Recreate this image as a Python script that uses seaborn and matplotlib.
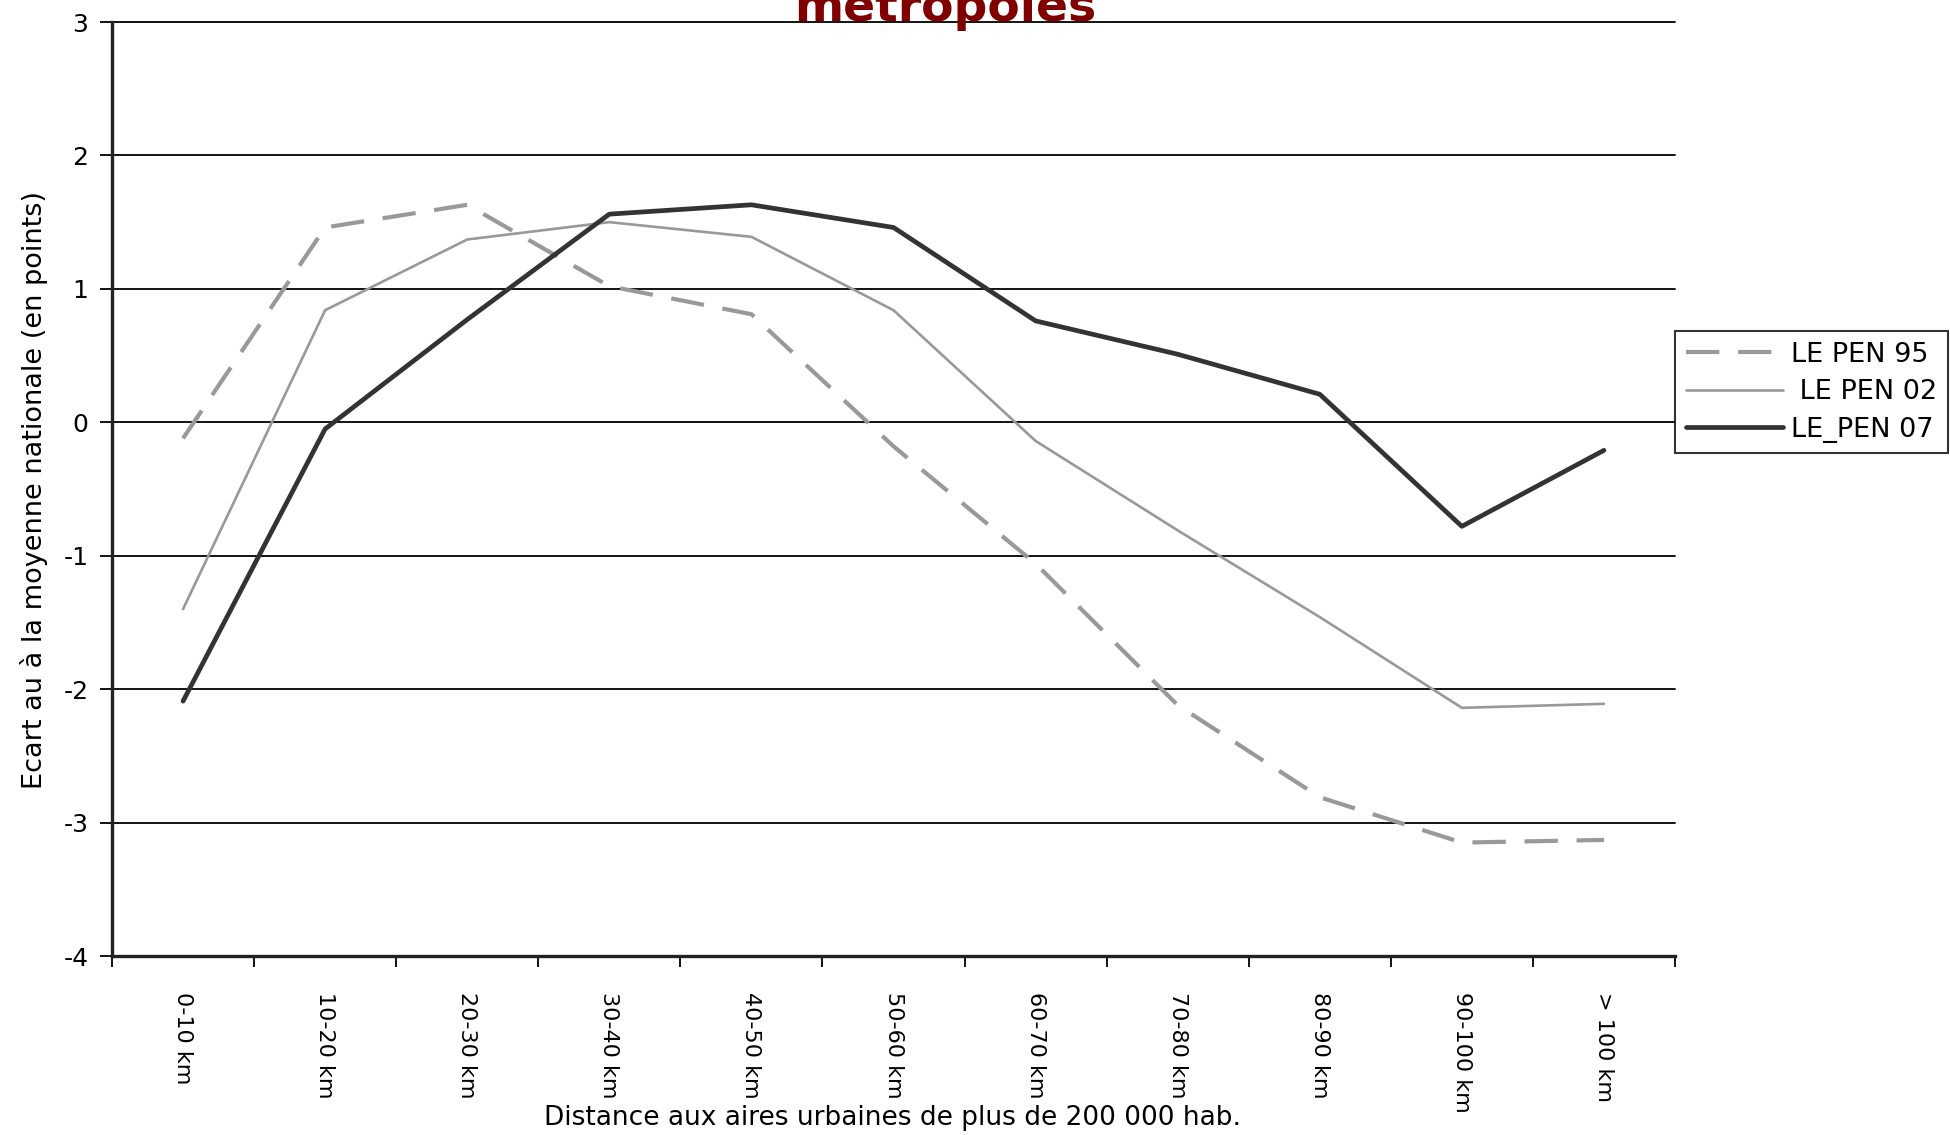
import pandas as pd
import matplotlib.pyplot as plt
import seaborn as sns

categories = ['0-10 km', '10-20 km', '20-30 km', '30-40 km', '40-50 km', '50-60 km',
              '60-70 km', '70-80 km', '80-90 km', '90-100 km', '> 100 km']
le_pen_95 = [-0.12, 1.46, 1.63, 1.02, 0.81, -0.18, -1.06, -2.12, -2.81, -3.15, -3.13]
le_pen_02 = [-1.40, 0.84, 1.37, 1.50, 1.39, 0.84, -0.14, -0.81, -1.46, -2.14, -2.11]
le_pen_07 = [-2.09, -0.05, 0.77, 1.56, 1.63, 1.46, 0.76, 0.51, 0.21, -0.78, -0.21]
series_labels = ['LE PEN 95', ' LE PEN 02', 'LE_PEN 07']
y_ticks = [-4, -3, -2, -1, 0, 1, 2, 3]

sns.set_style('white')
plt.rcParams['font.family'] = ['DejaVu Sans']
plt.rcParams.update({'text.color': 'black', 'axes.labelcolor': 'black',
                     'xtick.color': 'black', 'ytick.color': 'black'})

fig = plt.figure(figsize=(19.5, 11.35), dpi=100)
ax = fig.add_axes([112 / 1950, 1 - 956 / 1135, (1675 - 112) / 1950, (956 - 22) / 1135])

x = list(range(len(categories)))
df95 = pd.DataFrame({'x': x, 'y': le_pen_95})
df02 = pd.DataFrame({'x': x, 'y': le_pen_02})
df07 = pd.DataFrame({'x': x, 'y': le_pen_07})

# grid lines first so the series sit on top
for v in y_ticks:
    ax.axhline(v, color='black', lw=1.3, zorder=1, clip_on=False)

sns.lineplot(data=df95, x='x', y='y', ax=ax, color='#999999', lw=3.0,
             label=series_labels[0], zorder=3)
ax.lines[-1].set_dashes([8, 4.5])
sns.lineplot(data=df02, x='x', y='y', ax=ax, color='#999999', lw=1.9,
             label=series_labels[1], zorder=3)
sns.lineplot(data=df07, x='x', y='y', ax=ax, color='#333333', lw=3.4,
             label=series_labels[2], zorder=4)
for ln in ax.lines:
    ln.set_solid_capstyle('round')
    ln.set_dash_capstyle('butt')

ax.set_xlim(-0.5, len(categories) - 0.5)
ax.set_ylim(-4, 3)
ax.set_yticks(y_ticks)
ax.set_yticklabels([str(v) for v in y_ticks], fontsize=18)

# category labels between boundary ticks
ax.set_xticks([i - 0.5 for i in range(len(categories) + 1)])
ax.set_xticklabels([])
ax.set_xticks(x, minor=True)
ax.set_xticklabels(categories, minor=True, rotation=270, fontsize=16, va='top', ha='center')
ax.tick_params(axis='x', which='minor', length=0, pad=26)
ax.tick_params(axis='x', which='major', length=8, width=1.3, direction='out', bottom=True)
ax.tick_params(axis='y', length=9, width=1.3, direction='out', left=True, pad=8)

for s in ['top', 'right']:
    ax.spines[s].set_visible(False)
ax.spines['left'].set_linewidth(2.4)
ax.spines['left'].set_color('#222222')
ax.spines['bottom'].set_linewidth(2.4)
ax.spines['bottom'].set_color('#222222')

ax.set_xlabel('Distance aux aires urbaines de plus de 200 000 hab.', fontsize=19)
ax.xaxis.set_label_coords((893 - 112) / (1675 - 112), -(1118 - 956) / (956 - 22), transform=ax.transAxes)
ax.xaxis.label.set_va('center')
ax.set_ylabel('Ecart au à la moyenne nationale (en points)', fontsize=19.5)
ax.yaxis.set_label_coords(-(112 - 34) / (1675 - 112), (956 - 490) / (956 - 22))
ax.yaxis.label.set_va('center')

fig.text(945 / 1950, 1 - 21 / 1135, 'metropoles', color='#800000', fontsize=34,
         fontweight='bold', ha='center', va='baseline')

leg = ax.legend(loc='upper left', bbox_to_anchor=(1675 / 1950, 1 - 331 / 1135),
                bbox_transform=fig.transFigure, fontsize=19.5, frameon=True, fancybox=False,
                handlelength=3.6, handletextpad=0.3, borderpad=0.4, labelspacing=0.42,
                borderaxespad=0)
leg.get_frame().set_edgecolor('black')
leg.get_frame().set_linewidth(1.5)

plt.savefig('out.png', dpi=100)
plt.close()
